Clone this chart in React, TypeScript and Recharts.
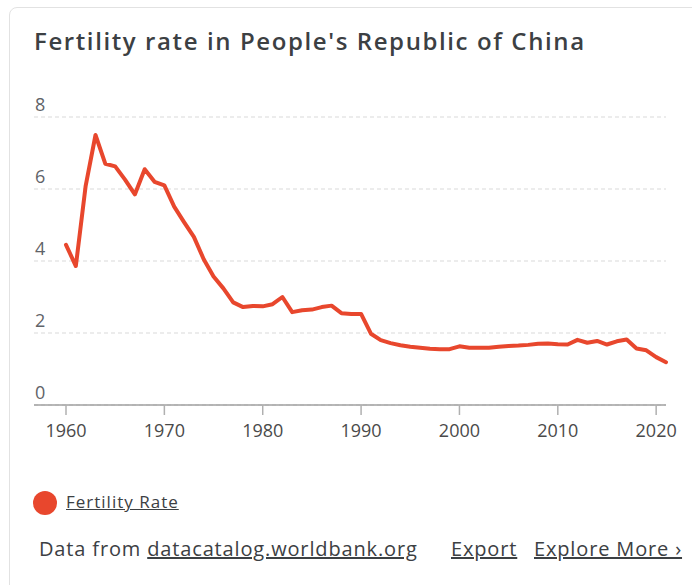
import React from "react";
import { LineChart, Line, XAxis, YAxis, CartesianGrid } from "recharts";

const years: number[] = [
  1960, 1961, 1962, 1963, 1964, 1965, 1966, 1967, 1968, 1969,
  1970, 1971, 1972, 1973, 1974, 1975, 1976, 1977, 1978, 1979,
  1980, 1981, 1982, 1983, 1984, 1985, 1986, 1987, 1988, 1989,
  1990, 1991, 1992, 1993, 1994, 1995, 1996, 1997, 1998, 1999,
  2000, 2001, 2002, 2003, 2004, 2005, 2006, 2007, 2008, 2009,
  2010, 2011, 2012, 2013, 2014, 2015, 2016, 2017, 2018, 2019,
  2020, 2021,
];

const fertilityRate: number[] = [
  4.45, 3.86, 6.09, 7.5, 6.7, 6.63, 6.26, 5.85, 6.55, 6.2,
  6.1, 5.51, 5.08, 4.67, 4.05, 3.57, 3.24, 2.85, 2.72, 2.75,
  2.74, 2.8, 3.0, 2.58, 2.63, 2.65, 2.72, 2.76, 2.55, 2.53,
  2.53, 1.98, 1.8, 1.72, 1.66, 1.62, 1.59, 1.56, 1.55, 1.55,
  1.63, 1.59, 1.59, 1.59, 1.62, 1.64, 1.65, 1.67, 1.7, 1.71,
  1.69, 1.68, 1.81, 1.73, 1.78, 1.68, 1.77, 1.82, 1.57, 1.52,
  1.33, 1.19,
];

const xTicks: number[] = [1960, 1970, 1980, 1990, 2000, 2010, 2020];
const yTicks: number[] = [0, 2, 4, 6, 8];

const data = years.map((y, i) => ({ year: y, rate: fertilityRate[i] }));

const FONT = "'Open Sans', Roboto, sans-serif";
const LINE_COLOR = "#e8472d";
const TEXT = "#3c4043";

const renderYTick = (props: any) => {
  const { y, payload } = props;
  return (
    <text x={35} y={y - 6.5} textAnchor="start" fill="#5f6368" fontSize={18} fontFamily={FONT}>
      {payload.value}
    </text>
  );
};

const renderXTick = (props: any) => {
  const { x, y, payload } = props;
  return (
    <text x={x} y={y + 19.5} textAnchor="middle" fill="#4a4a4a" fontSize={18} fontFamily={FONT}>
      {payload.value}
    </text>
  );
};

export default function App() {
  return (
    <div
      style={{
        position: "absolute",
        left: 0,
        top: 0,
        width: 692,
        height: 585,
        overflow: "hidden",
        background: "#fff",
        fontFamily: FONT,
      }}
    >
      <div
        style={{
          position: "absolute",
          left: 9,
          top: 7,
          width: 720,
          height: 620,
          border: "1px solid #e2e2e2",
          borderRadius: 8,
          boxSizing: "border-box",
        }}
      />
      <div
        style={{
          position: "absolute",
          left: 34,
          top: 28.7,
          fontSize: 24,
          fontWeight: 600,
          letterSpacing: 1.6,
          color: TEXT,
          whiteSpace: "nowrap",
          lineHeight: 1,
        }}
      >
        Fertility rate in People's Republic of China
      </div>
      <div style={{ position: "absolute", left: 0, top: 0 }}>
        <LineChart
          width={692}
          height={460}
          data={data}
          margin={{ top: 117, right: 26, bottom: 25, left: 33 }}
        >
          <CartesianGrid vertical={false} stroke="#d9d9d9" strokeDasharray="4 3" />
          <XAxis
            dataKey="year"
            type="number"
            domain={[1960, 2021]}
            ticks={xTicks}
            padding={{ left: 32, right: 0 }}
            height={30}
            tick={renderXTick}
            tickSize={10}
            axisLine={{ stroke: "#a0a0a0", strokeWidth: 1.5 }}
            tickLine={{ stroke: "#b0b0b0", strokeWidth: 1.5 }}
            interval={0}
          />
          <YAxis
            type="number"
            domain={[0, 8]}
            ticks={yTicks}
            width={1}
            axisLine={false}
            tickLine={false}
            tick={renderYTick}
            interval={0}
          />
          <Line
            type="linear"
            dataKey="rate"
            stroke={LINE_COLOR}
            strokeWidth={4}
            dot={false}
            isAnimationActive={false}
            strokeLinejoin="round"
            strokeLinecap="round"
          />
        </LineChart>
      </div>
      <div
        style={{
          position: "absolute",
          left: 33,
          top: 491,
          width: 24,
          height: 24,
          borderRadius: "50%",
          background: LINE_COLOR,
        }}
      />
      <div
        style={{
          position: "absolute",
          left: 66,
          top: 492.9,
          fontSize: 17,
          letterSpacing: 1.0,
          lineHeight: 1,
          color: TEXT,
          textDecoration: "underline",
          whiteSpace: "nowrap",
        }}
      >
        Fertility Rate
      </div>
      <div
        style={{
          position: "absolute",
          left: 39,
          top: 538.9,
          fontSize: 20,
          letterSpacing: 0.85,
          lineHeight: 1,
          color: TEXT,
          whiteSpace: "nowrap",
        }}
      >
        Data from <span style={{ textDecoration: "underline" }}>datacatalog.worldbank.org</span>
      </div>
      <div
        style={{
          position: "absolute",
          left: 451,
          top: 538.9,
          fontSize: 20,
          letterSpacing: 0.85,
          lineHeight: 1,
          color: TEXT,
          textDecoration: "underline",
          whiteSpace: "nowrap",
        }}
      >
        Export
      </div>
      <div
        style={{
          position: "absolute",
          left: 534,
          top: 538.9,
          fontSize: 20,
          letterSpacing: 0.85,
          lineHeight: 1,
          color: TEXT,
          textDecoration: "underline",
          whiteSpace: "nowrap",
        }}
      >
        Explore More ›
      </div>
    </div>
  );
}
